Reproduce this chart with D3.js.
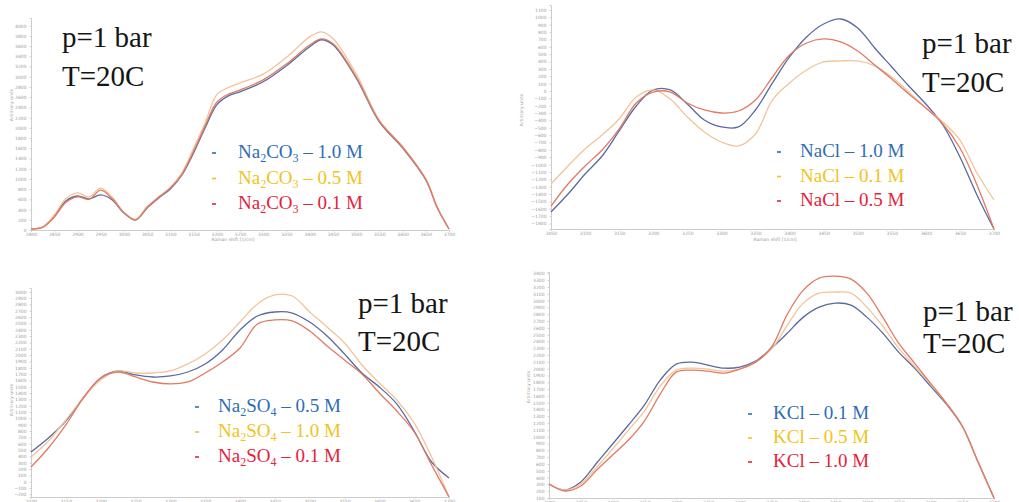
<!DOCTYPE html>
<html>
<head>
<meta charset="utf-8">
<script src="https://cdn.jsdelivr.net/npm/d3@7"></script>
<style>
  body { margin: 0; background: #fff; }
  svg { display: block; }
  .axis path, .axis line { stroke: #cdcdcd; }
  .axis text { fill: #9c9c9c; font-family: "DejaVu Sans", sans-serif; font-size: 4.5px; }
  .atitle { fill: #9c9c9c; font-family: "DejaVu Sans", sans-serif; font-size: 4.5px; }
  .note { font-family: "Liberation Serif", serif; font-size: 29px; fill: #151515; }
  .leg { font-family: "Liberation Serif", serif; font-size: 19px; }
</style>
</head>
<body>
<svg id="chart" width="1019" height="502"></svg>
<script>
// Na2CO3 panel (top left)
var tlShift  = [2800,2825,2850,2875,2900,2925,2950,2975,3000,3025,3050,3075,3100,3125,3150,3175,3200,3225,3250,3300,3350,3400,3425,3450,3500,3550,3600,3650,3675,3700];
var tlBlue   = [20,59,274,568,666,608,686,588,333,196,431,627,804,1078,1509,2000,2450,2626,2705,2901,3214,3587,3724,3626,2979,2117,1607,980,431,20];
var tlYellow = [20,59,294,610,725,650,820,640,350,210,460,650,840,1120,1600,2100,2650,2790,2880,3050,3380,3780,3880,3750,3060,2150,1640,1000,440,20];
var tlRed    = [20,50,250,540,650,600,780,610,340,200,440,640,820,1090,1540,2040,2500,2660,2740,2940,3250,3620,3740,3650,3000,2130,1620,990,435,20];
var tlConc   = ["1.0 M", "0.5 M", "0.1 M"];

// NaCl panel (top right)
var trShift  = [3050,3075,3100,3125,3150,3175,3200,3225,3250,3275,3300,3325,3350,3375,3400,3425,3450,3475,3500,3525,3550,3575,3600,3625,3650,3675,3700];
var trBlue   = [-1644,-1400,-1128,-883,-543,-204,14,14,-177,-394,-489,-489,-258,109,462,734,910,978,856,584,326,68,-177,-462,-897,-1413,-1875];
var trYellow = [-1264,-1019,-788,-598,-380,-82,14,-109,-353,-557,-693,-747,-584,-122,109,285,394,408,408,340,190,-14,-231,-421,-666,-1114,-1481];
var trRed    = [-1563,-1264,-1019,-802,-516,-163,-14,-14,-163,-258,-299,-272,-122,190,489,652,707,666,543,353,163,-41,-231,-448,-774,-1277,-1875];
var trConc   = ["1.0 M", "0.1 M", "0.5 M"];

// Na2SO4 panel (bottom left)
var blShift  = [3100,3125,3150,3175,3200,3225,3250,3275,3300,3325,3350,3375,3400,3425,3450,3475,3500,3525,3550,3575,3600,3625,3650,3675,3700];
var blBlue   = [469,690,959,1322,1638,1749,1686,1654,1670,1733,1860,2081,2397,2618,2681,2665,2523,2302,2018,1717,1496,1228,801,311,58];
var blYellow = [391,643,975,1322,1607,1749,1717,1717,1749,1860,2018,2239,2523,2807,2950,2934,2681,2444,2192,1844,1559,1291,928,391,-240];
var blRed    = [233,532,896,1322,1638,1733,1654,1575,1544,1575,1717,1891,2113,2492,2555,2539,2381,2144,1923,1701,1401,1117,785,264,-240];
var blConc   = ["0.5 M", "1.0 M", "0.1 M"];

// KCl panel (bottom right)
var brShift  = [3000,3025,3050,3075,3100,3125,3150,3175,3200,3225,3250,3275,3300,3325,3350,3375,3400,3425,3450,3475,3500,3525,3550,3575,3600,3625,3650,3675,3700];
var brBlue   = [306,217,335,614,893,1172,1465,1832,2067,2096,2052,2008,2023,2111,2302,2522,2757,2904,2963,2933,2757,2522,2243,2008,1744,1480,1157,628,100];
var brYellow = [306,217,306,555,819,1098,1377,1744,1979,2008,1994,1964,1994,2096,2287,2640,2963,3109,3124,3109,2904,2625,2302,2038,1774,1495,1157,628,100];
var brRed    = [306,203,276,511,731,951,1230,1627,1950,1979,1964,1935,1994,2096,2317,2801,3153,3330,3359,3315,3109,2757,2375,2082,1788,1495,1157,628,100];
var brConc   = ["0.1 M", "0.5 M", "1.0 M"];

var lineColors = ["#5a6aa0", "#f2c499", "#e17a62"];
var textColors = ["#2e6db5", "#f1c31c", "#e5223b"];

var svg = d3.select("#chart");

var panels = [
  { shift: tlShift, series: [tlBlue, tlYellow, tlRed], salt: "Na_2CO_3", conc: tlConc,
    xDom: [2800, 3700], xRng: [31, 449], yDom: [0, 4150], yRng: [230, 18],
    xStep: 50, yStep: 200, yTitle: [13, 105], xTitle: [233, 241],
    note: [62, 47, 86], leg: [212, 238, 158, 25.5] },
  { shift: trShift, series: [trBlue, trYellow, trRed], salt: "NaCl", conc: trConc,
    xDom: [3050, 3700], xRng: [551, 994], yDom: [-1875, 1168], yRng: [229, 5],
    xStep: 50, yStep: 100, yTitle: [523, 110], xTitle: [775, 241],
    note: [922, 53, 92], leg: [777, 800, 157, 24.5] },
  { shift: blShift, series: [blBlue, blYellow, blRed], salt: "Na_2SO_4", conc: blConc,
    xDom: [3100, 3700], xRng: [31, 449], yDom: [-242, 3060], yRng: [497, 288],
    xStep: 50, yStep: 100, yTitle: [13, 400], xTitle: [240, 508],
    note: [358, 313, 351], leg: [195, 218, 412, 25] },
  { shift: brShift, series: [brBlue, brYellow, brRed], salt: "KCl", conc: brConc,
    xDom: [3000, 3700], xRng: [549, 994], yDom: [100, 3420], yRng: [498, 272],
    xStep: 50, yStep: 100, yTitle: [530, 387], xTitle: [770, 508],
    note: [923, 321, 353], leg: [748, 773, 419, 24] }
];

panels.forEach(function(p) {
  var x = d3.scaleLinear().domain(p.xDom).range(p.xRng);
  var y = d3.scaleLinear().domain(p.yDom).range(p.yRng);
  var g = svg.append("g");

  var xTicks = d3.range(p.xDom[0], p.xDom[1] + 1, p.xStep);
  var yTicks = d3.range(Math.ceil(p.yDom[0] / p.yStep) * p.yStep, p.yDom[1] + 1, p.yStep);

  // x axis
  g.append("g")
      .attr("class", "axis")
      .attr("transform", "translate(0," + p.yRng[0] + ")")
      .call(d3.axisBottom(x).tickValues(xTicks).tickSize(1.5).tickPadding(1).tickFormat(d3.format("d")));

  // y axis
  g.append("g")
      .attr("class", "axis")
      .attr("transform", "translate(" + p.xRng[0] + ",0)")
      .call(d3.axisLeft(y).tickValues(yTicks).tickSize(1.5).tickPadding(3).tickFormat(d3.format("d")));

  g.append("text")
      .attr("class", "atitle")
      .attr("transform", "translate(" + p.yTitle[0] + "," + p.yTitle[1] + ") rotate(-90)")
      .attr("text-anchor", "middle")
      .text("Arbitrary units");
  g.append("text")
      .attr("class", "atitle")
      .attr("x", p.xTitle[0]).attr("y", p.xTitle[1])
      .attr("text-anchor", "middle")
      .text("Raman shift [1/cm]");

  // spectra
  var line = d3.line()
      .x(function(d, i) { return x(p.shift[i]); })
      .y(function(d) { return y(d); })
      .curve(d3.curveCatmullRom.alpha(0.5));
  p.series.forEach(function(s, k) {
    g.append("path")
        .attr("d", line(s))
        .attr("fill", "none")
        .attr("stroke", lineColors[k])
        .attr("stroke-width", 1.3);
  });

  // conditions
  g.append("text").attr("class", "note").attr("x", p.note[0]).attr("y", p.note[1]).text("p=1 bar");
  g.append("text").attr("class", "note").attr("x", p.note[0]).attr("y", p.note[2]).text("T=20C");

  // legend
  var parts = p.salt.split(/_(\d)/);
  p.conc.forEach(function(c, k) {
    var by = p.leg[2] + k * p.leg[3];
    g.append("line")
        .attr("x1", p.leg[0]).attr("x2", p.leg[0] + 4)
        .attr("y1", by - 5).attr("y2", by - 5)
        .attr("stroke", textColors[k]).attr("stroke-width", 1.6);
    var t = g.append("text").attr("class", "leg")
        .attr("x", p.leg[1]).attr("y", by)
        .attr("fill", textColors[k]);
    parts.forEach(function(s, j) {
      if (s === "") return;
      if (j % 2 === 1) {
        t.append("tspan").attr("font-size", "12px").attr("dy", 4).text(s);
      } else {
        t.append("tspan").attr("dy", j > 0 ? -4 : 0).text(s);
      }
    });
    t.append("tspan").attr("dy", parts[parts.length - 1] === "" ? -4 : 0).text(" \u2013 " + c);
  });
});
</script>
</body>
</html>
